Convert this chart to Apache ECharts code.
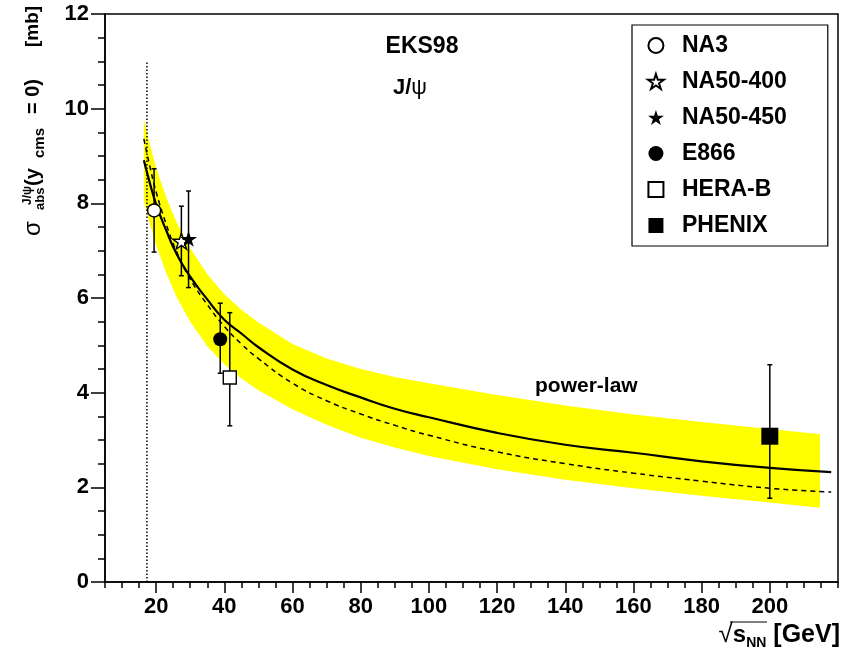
<!DOCTYPE html>
<html>
<head>
<meta charset="utf-8">
<title>EKS98 J/psi absorption cross section</title>
<script src="https://cdn.jsdelivr.net/npm/echarts@6/dist/echarts.min.js"></script>
<style>
html, body { margin: 0; padding: 0; background: #fff; }
#chart { width: 841px; height: 659px; }
</style>
</head>
<body>
<div id="chart"></div>
<script>
// model curves: sqrt(s_NN) [GeV] vs sigma_abs [mb]
const curveX = [16.4, 18, 20, 23, 26, 30, 35, 40, 45, 50, 60, 70, 80, 90, 100, 120, 140, 160, 180, 200, 218];
const powerLawY = [8.91, 8.47, 7.98, 7.42, 6.93, 6.45, 5.97, 5.54, 5.25, 4.96, 4.49, 4.16, 3.90, 3.66, 3.48, 3.15, 2.90, 2.73, 2.55, 2.41, 2.32];
const dashedY = [9.36, 8.83, 8.24, 7.55, 6.98, 6.40, 5.86, 5.40, 5.03, 4.72, 4.20, 3.83, 3.55, 3.31, 3.10, 2.75, 2.50, 2.30, 2.13, 1.98, 1.90];

// yellow uncertainty band
const bandX = [16.4, 18, 20, 23, 26, 30, 35, 40, 45, 50, 60, 70, 80, 90, 100, 120, 140, 160, 180, 200, 214.7];
const bandUpper = [9.78, 9.28, 8.75, 8.12, 7.60, 7.05, 6.50, 6.08, 5.75, 5.48, 5.03, 4.72, 4.50, 4.33, 4.20, 3.95, 3.73, 3.54, 3.38, 3.23, 3.12];
const bandLower = [8.05, 7.60, 7.12, 6.52, 6.02, 5.50, 4.98, 4.60, 4.30, 4.05, 3.65, 3.32, 3.05, 2.84, 2.66, 2.38, 2.16, 1.98, 1.82, 1.68, 1.57];

// SPS energy marker (dotted)
const spsLine = [[17.3, 0], [17.3, 11]];

// measurements: [sqrt(s), sigma, low, high]
const na3 = [[19.4, 7.85, 6.97, 8.73]];
const na50_400 = [[27.4, 7.20, 6.47, 7.94]];
const na50_450 = [[29.5, 7.25, 6.22, 8.26]];
const e866 = [[38.8, 5.13, 4.41, 5.89]];
const herab = [[41.6, 4.32, 3.30, 5.69]];
const phenix = [[200, 3.08, 1.77, 4.59]];

const xLabels = [20, 40, 60, 80, 100, 120, 140, 160, 180, 200];

const FONT = '"Liberation Sans", Arial, Helvetica, sans-serif';
const STAR = 'path://M50,2 L61.2,36.2 L97.6,36.2 L68.2,57.6 L79.4,92 L50,70.8 L20.6,92 L31.8,57.6 L2.4,36.2 L38.8,36.2 Z';
const SQUARE = 'path://M0,0 L10,0 L10,10 L0,10 Z';

function pairs(xs, ys) {
	return xs.map((x, i) => [x, ys[i]]);
}

function bandSeries() {
	return {
		type: 'custom',
		silent: true,
		z: 1,
		data: [[bandX[0], bandLower[0]]],
		renderItem(params, api) {
			const pts = [];
			bandX.forEach((x, i) => pts.push(api.coord([x, bandUpper[i]])));
			for (let i = bandX.length - 1; i >= 0; i--) pts.push(api.coord([bandX[i], bandLower[i]]));
			return {
				type: 'polygon',
				shape: { points: pts },
				style: { fill: '#ffff00', stroke: null }
			};
		}
	};
}

function errorBars(data) {
	return {
		type: 'custom',
		silent: true,
		z: 4,
		data: data.map(d => [d[0], d[2], d[3]]),
		renderItem(params, api) {
			const lo = api.coord([api.value(0), api.value(1)]);
			const hi = api.coord([api.value(0), api.value(2)]);
			const cap = 2.5;
			const style = { stroke: '#000', lineWidth: 1.5 };
			return {
				type: 'group',
				children: [
					{ type: 'line', shape: { x1: lo[0], y1: lo[1], x2: hi[0], y2: hi[1] }, style },
					{ type: 'line', shape: { x1: lo[0] - cap, y1: lo[1], x2: lo[0] + cap, y2: lo[1] }, style },
					{ type: 'line', shape: { x1: hi[0] - cap, y1: hi[1], x2: hi[0] + cap, y2: hi[1] }, style }
				]
			};
		}
	};
}

function marker(name, data, symbol, size, open) {
	return {
		name: name,
		type: 'scatter',
		z: 5,
		symbol: symbol,
		symbolSize: size,
		symbolKeepAspect: true,
		data: data.map(d => [d[0], d[1]]),
		itemStyle: open
			? { color: '#fff', borderColor: '#000', borderWidth: 1.4, opacity: 1 }
			: { color: '#000', borderColor: '#000', borderWidth: 0, opacity: 1 }
	};
}

const chart = echarts.init(document.getElementById('chart'));

chart.setOption({
	animation: false,
	backgroundColor: '#fff',
	grid: {
		left: 105, right: 1, top: 14, bottom: 77,
		show: true, borderColor: '#000', borderWidth: 1.5
	},
	xAxis: [
		{
			type: 'value', min: 5, max: 220, interval: 5,
			axisLine: { lineStyle: { color: '#000', width: 1.5 } },
			axisTick: { length: 6, lineStyle: { color: '#000', width: 1.5 } },
			axisLabel: {
				margin: 14, color: '#000', fontSize: 22, fontWeight: 'bold', fontFamily: FONT,
				formatter: v => (xLabels.indexOf(v) >= 0 ? String(v) : '')
			},
			splitLine: { show: false }
		},
		{
			type: 'value', min: 5, max: 220, position: 'bottom',
			axisLine: { show: false },
			axisTick: { length: 11, customValues: xLabels, lineStyle: { color: '#000', width: 1.5 } },
			axisLabel: { show: false },
			splitLine: { show: false }
		}
	],
	yAxis: {
		type: 'value', min: 0, max: 12, interval: 2,
		axisLine: { show: true, lineStyle: { color: '#000', width: 1.5 } },
		axisTick: { length: 14, lineStyle: { color: '#000', width: 1.5 } },
		minorTick: { show: true, splitNumber: 4, length: 7, lineStyle: { color: '#000', width: 1.5 } },
		axisLabel: { margin: 16, color: '#000', fontSize: 22, fontWeight: 'bold', fontFamily: FONT },
		splitLine: { show: false }
	},
	legend: {
		orient: 'vertical', left: 632, top: 25,
		padding: [9, 41, 9, 15], itemGap: 13, itemWidth: 42, itemHeight: 15,
		borderColor: '#000', borderWidth: 1.2, backgroundColor: '#fff',
		selectedMode: false,
		textStyle: { fontSize: 23, fontWeight: 'bold', color: '#000', fontFamily: FONT, lineHeight: 22 },
		data: ['NA3', 'NA50-400', 'NA50-450', 'E866', 'HERA-B', 'PHENIX']
	},
	graphic: [
		{
			type: 'text', x: 422, y: 47, z: 100,
			style: { text: 'EKS98', font: 'bold 23px ' + FONT, fill: '#000', align: 'center', verticalAlign: 'middle' }
		},
		{
			type: 'text', x: 393, y: 88, z: 100,
			style: {
				text: '{b|J/}{g|ψ}', align: 'left', verticalAlign: 'middle',
				rich: {
					b: { font: 'bold 22px ' + FONT, fill: '#000' },
					g: { font: '22px ' + FONT, fill: '#000' }
				}
			}
		},
		{
			type: 'text', x: 535, y: 386, z: 100,
			style: { text: 'power-law', font: 'bold 21px ' + FONT, fill: '#000', align: 'left', verticalAlign: 'middle' }
		},
		// y title, rotated
		{
			type: 'text', x: 33, y: 236, rotation: Math.PI / 2, z: 100,
			style: {
				text: '{g|σ}{s1|abs}{r1|(y}{s2|cms}{r2|= 0)}{r3|[mb]}',
				align: 'left', verticalAlign: 'middle',
				rich: {
					g: { font: '24px ' + FONT, fill: '#000', lineHeight: 28, width: 26 },
					s1: { font: 'bold 13px ' + FONT, fill: '#000', lineHeight: 14, verticalAlign: 'bottom', width: 24 },
					r1: { font: 'bold 20px ' + FONT, fill: '#000', lineHeight: 28, width: 28 },
					s2: { font: 'bold 15px ' + FONT, fill: '#000', lineHeight: 14, verticalAlign: 'bottom', width: 44 },
					r2: { font: 'bold 20px ' + FONT, fill: '#000', lineHeight: 28, width: 67 },
					r3: { font: 'bold 19px ' + FONT, fill: '#000', lineHeight: 28 }
				}
			}
		},
		{
			type: 'text', x: 28, y: 205, rotation: Math.PI / 2, z: 100,
			style: { text: 'J/ψ', font: 'bold 12px ' + FONT, fill: '#000', align: 'left', verticalAlign: 'middle' }
		},
		// x title
		{
			type: 'text', x: 840, y: 635, z: 100,
			style: {
				text: '{sq|√}{r|s}{sub|NN}{g| [GeV]}',
				align: 'right', verticalAlign: 'middle',
				rich: {
					sq: { font: '26px ' + FONT, fill: '#000', lineHeight: 30 },
					r: { font: 'bold 24px ' + FONT, fill: '#000', lineHeight: 30 },
					sub: { font: 'bold 14px ' + FONT, fill: '#000', lineHeight: 16, verticalAlign: 'bottom' },
					g: { font: 'bold 25px ' + FONT, fill: '#000', lineHeight: 30 }
				}
			}
		},
		{
			type: 'line', z: 100, shape: { x1: 730, y1: 622, x2: 767, y2: 622 },
			style: { stroke: '#000', lineWidth: 1.2 }
		}
	],
	series: [
		bandSeries(),
		{
			type: 'line', silent: true, z: 2,
			data: spsLine, showSymbol: false,
			lineStyle: { color: '#000', width: 1.5, type: [1.5, 2] }
		},
		{
			type: 'line', silent: true, z: 3,
			data: pairs(curveX, dashedY), smooth: true, showSymbol: false,
			lineStyle: { color: '#000', width: 1.5, type: [5, 4] }
		},
		{
			type: 'line', silent: true, z: 3,
			data: pairs(curveX, powerLawY), smooth: true, showSymbol: false,
			lineStyle: { color: '#000', width: 2.2 }
		},
		errorBars(na3), errorBars(na50_400), errorBars(na50_450),
		errorBars(e866), errorBars(herab), errorBars(phenix),
		marker('NA3', na3, 'circle', 13, true),
		marker('NA50-400', na50_400, STAR, 17, true),
		marker('NA50-450', na50_450, STAR, 17, false),
		marker('E866', e866, 'circle', 14, false),
		marker('HERA-B', herab, SQUARE, 13, true),
		marker('PHENIX', phenix, SQUARE, 17, false)
	]
});
</script>
</body>
</html>
